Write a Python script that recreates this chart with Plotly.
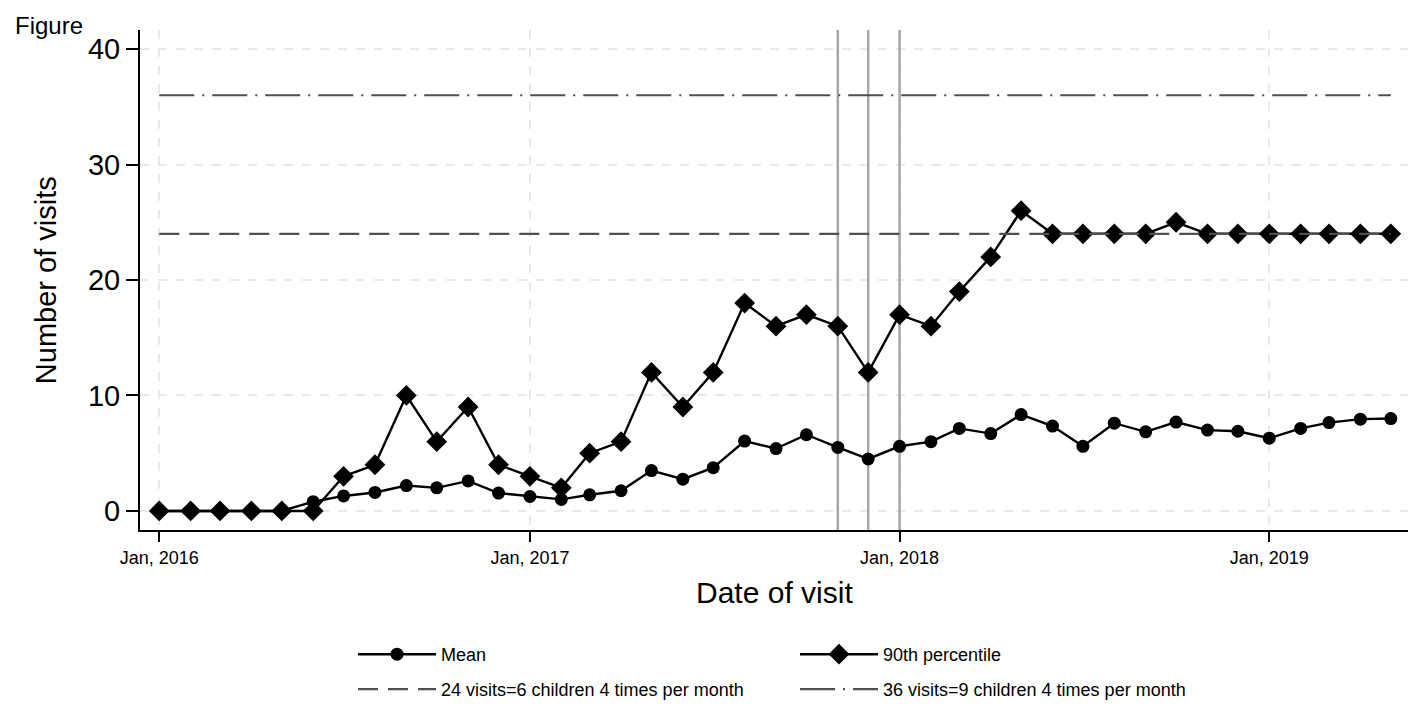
import plotly.graph_objects as go
import pandas as pd

# Monthly series, Jan 2016 - May 2019
months = [d.strftime("%Y-%m-%d") for d in pd.date_range("2016-01-01", "2019-05-01", freq="MS")]

mean_visits = [0, 0, 0, 0, 0, 0.8, 1.3, 1.6, 2.2, 2.0, 2.6, 1.55,
               1.25, 1.0, 1.4, 1.75, 3.5, 2.75, 3.75, 6.05, 5.4, 6.6, 5.5, 4.5,
               5.6, 6.0, 7.15, 6.7, 8.35, 7.35, 5.6, 7.6, 6.85, 7.7, 7.0, 6.9,
               6.3, 7.15, 7.65, 7.95, 8.0]
p90_visits = [0, 0, 0, 0, 0, 0, 3, 4, 10, 6, 9, 4,
              3, 2, 5, 6, 12, 9, 12, 18, 16, 17, 16, 12,
              17, 16, 19, 22, 26, 24, 24, 24, 24, 25, 24, 24,
              24, 24, 24, 24, 24]

ref_24 = 24
ref_36 = 36
marker_months = ["2017-11-01", "2017-12-01", "2018-01-01"]

tick_vals = ["2016-01-01", "2017-01-01", "2018-01-01", "2019-01-01"]
tick_text = ["Jan, 2016", "Jan, 2017", "Jan, 2018", "Jan, 2019"]

FONT = "Liberation Sans, Arial, sans-serif"
Y_RANGE = [-1.65, 41.65]

fig = go.Figure()

# Vertical reference lines, drawn first so the series sit on top of them
for m in marker_months:
    fig.add_trace(go.Scatter(
        x=[m, m], y=Y_RANGE, mode="lines", showlegend=False, hoverinfo="skip",
        line=dict(color="#a6a6a6", width=2.5),
    ))

fig.add_trace(go.Scatter(
    x=months, y=mean_visits, name="Mean", mode="lines+markers",
    line=dict(color="black", width=2.4),
    marker=dict(symbol="circle", size=13, color="black"),
    legend="legend",
))
fig.add_trace(go.Scatter(
    x=months, y=p90_visits, name="90th percentile", mode="lines+markers",
    line=dict(color="black", width=2.4),
    marker=dict(symbol="diamond", size=16, color="black"),
    legend="legend",
))
fig.add_trace(go.Scatter(
    x=[months[0], months[-1]], y=[ref_24, ref_24],
    name="24 visits=6 children 4 times per month", mode="lines",
    line=dict(color="#505050", width=2.2, dash="20px,10px"),
    legend="legend2",
))
fig.add_trace(go.Scatter(
    x=[months[0], months[-1]], y=[ref_36, ref_36],
    name="36 visits=9 children 4 times per month", mode="lines",
    line=dict(color="#505050", width=2.2, dash="35px,8px,2px,8px"),
    legend="legend2",
))

legend_common = dict(
    orientation="h", x=0.168, xanchor="left", yanchor="middle",
    xref="paper", yref="paper",
    font=dict(size=18, family=FONT), entrywidth=349, entrywidthmode="pixels",
    itemwidth=78, bgcolor="rgba(0,0,0,0)",
)

fig.update_layout(
    width=1408, height=705,
    paper_bgcolor="white", plot_bgcolor="white",
    font=dict(family=FONT, color="black"),
    margin=dict(l=140, r=0, t=30, b=175, autoexpand=False),
    xaxis=dict(
        range=["2015-12-13", "2019-05-18"],
        tickvals=tick_vals, ticktext=tick_text,
        tickfont=dict(size=18, family=FONT),
        ticks="outside", ticklen=10, tickwidth=2, tickcolor="black",
        showline=True, linecolor="black", linewidth=2,
        showgrid=True, gridcolor="#e9e9e9", gridwidth=1.5, griddash="dash",
        zeroline=False,
    ),
    yaxis=dict(
        range=Y_RANGE,
        tickvals=[0, 10, 20, 30, 40],
        tickfont=dict(size=29, family=FONT),
        ticks="outside", ticklen=12, tickwidth=2, tickcolor="black",
        showline=True, linecolor="black", linewidth=2,
        showgrid=True, gridcolor="#e9e9e9", gridwidth=1.5, griddash="dash",
        zeroline=False,
    ),
    legend=dict(legend_common, y=-0.249),
    legend2=dict(legend_common, y=-0.319),
    annotations=[
        dict(text="Figure", x=-0.1, y=1.04, xref="paper", yref="paper",
             xanchor="left", yanchor="top", font=dict(size=24), showarrow=False),
        dict(text="Number of visits", textangle=-90, font=dict(size=29),
             x=-0.074, y=0.5, xref="paper", yref="paper", xanchor="center",
             yanchor="middle", showarrow=False),
        dict(text="Date of visit", font=dict(size=30),
             x=0.5, y=-0.124, xref="paper", yref="paper", xanchor="center",
             yanchor="middle", showarrow=False),
    ],
    showlegend=True,
)

fig.write_html("out.html")
